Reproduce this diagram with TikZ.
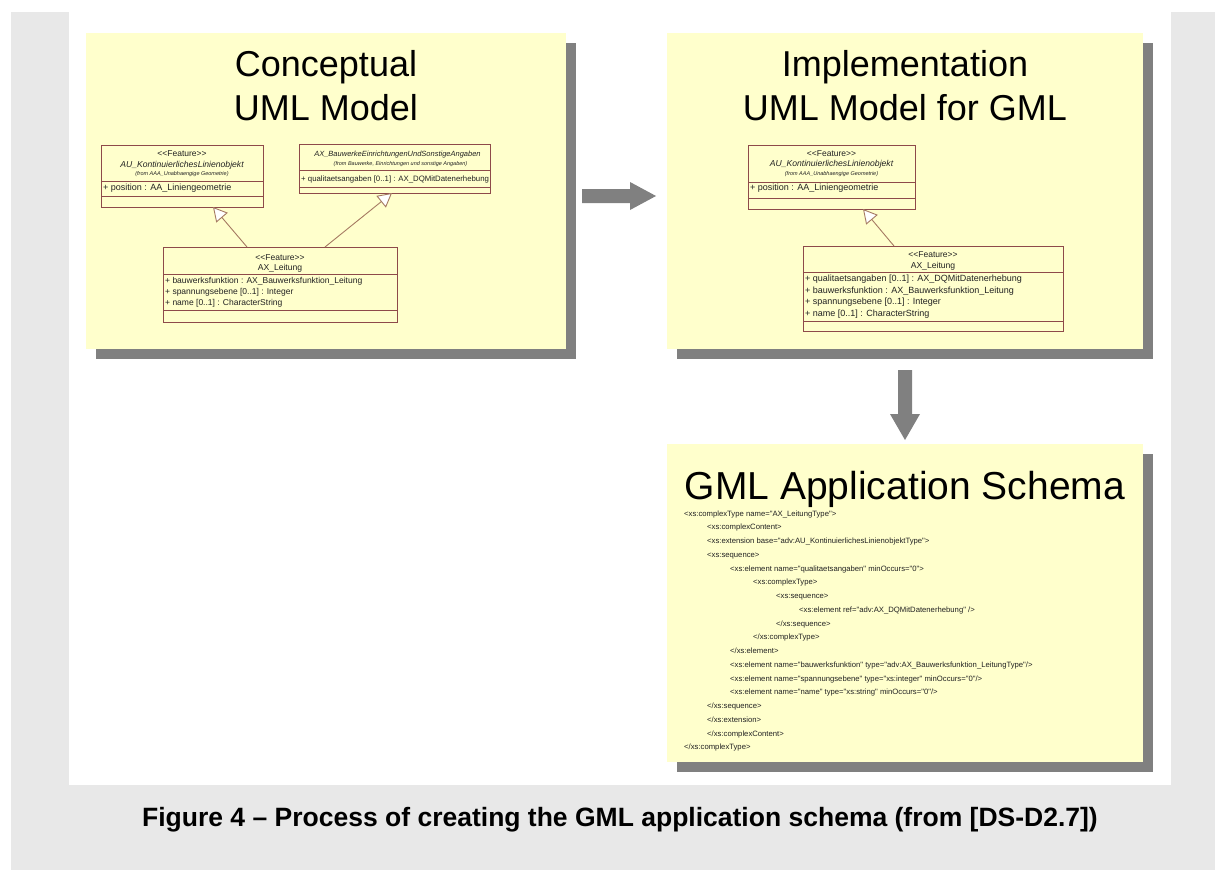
\documentclass[tikz,border=0pt]{standalone}
\usepackage{fontspec}
\setmainfont{Liberation Sans}
\newfontfamily\af{Liberation Sans}
\usetikzlibrary{calc,shadows,arrows.meta}
\definecolor{bggray}{HTML}{E8E8E8}
\definecolor{panelyellow}{HTML}{FFFFCC}
\definecolor{shadowgray}{HTML}{808080}
\definecolor{umlred}{HTML}{8E4A4A}
\definecolor{genbrown}{HTML}{A57A62}
\definecolor{txt}{HTML}{222222}
\tikzset{
  panel/.style={fill=panelyellow, draw=none, inner sep=0pt, outer sep=0pt, anchor=north west,
    general shadow={fill=shadowgray, shadow xshift=10pt, shadow yshift=-10pt}},
  umlbox/.style={draw=umlred, line width=0.9pt, inner sep=0pt, outer sep=0pt, anchor=north west},
  umlline/.style={draw=umlred, line width=0.9pt},
  gen/.style={draw=genbrown, line width=0.9pt, -{Triangle[fill=white, width=15pt, length=14pt]}},
  title/.style={font=\af\fontsize{36}{40}\selectfont, anchor=base, inner sep=0pt, text=black},
  bigtitle/.style={font=\af\fontsize{39}{44}\selectfont, anchor=base, inner sep=0pt, text=black},
  stereo/.style={font=\af\fontsize{8.5}{10}\selectfont, anchor=base, inner sep=0pt, text=txt},
  cname/.style={font=\af\fontsize{8.6}{10}\selectfont, anchor=base, inner sep=0pt, text=txt},
  iname/.style={font=\af\itshape\fontsize{8.6}{10}\selectfont, anchor=base, inner sep=0pt, text=txt},
  fromtxt/.style={font=\af\itshape\fontsize{5.5}{7}\selectfont, anchor=base, inner sep=0pt, text=txt},
  attr/.style={font=\af\fontsize{9}{11}\selectfont, anchor=base west, inner sep=0pt, text=txt},
  xmltext/.style={font=\af\fontsize{7.7}{9}\selectfont, anchor=base west, inner sep=0pt, text=txt},
  bigarrow/.style={fill=shadowgray, draw=none},
  caption/.style={font=\af\bfseries\fontsize{26.5}{30}\selectfont, anchor=base, inner sep=0pt, text=black}
}
\newcommand\xmlln[3]{\node[xmltext] (xml#2) at ({684+23*#1},{516+13.75*(#2-1)}) {#3};}
\begin{document}
\begin{tikzpicture}[x=1pt,y=-1pt]
\useasboundingbox (0,0) rectangle (1215,870);
\fill[white] (0,0) rectangle (1215,870);
\fill[bggray] (11,12) rectangle (1215,870);
\fill[white] (69,0) rectangle (1171,785);

% panels
\node[panel, minimum width=480pt, minimum height=316pt] (p1) at (86,33) {};
\node[panel, minimum width=476pt, minimum height=316pt] (p2) at (667,33) {};
\node[panel, minimum width=476pt, minimum height=318pt] (p3) at (667,444) {};

% titles
\node[title] (t1a) at ($(p1.north)+(0,43)$) {Conceptual};
\node[title] (t1b) at ($(p1.north)+(0,87)$) {UML Model};
\node[title] (t2a) at ($(p2.north)+(0,43)$) {Implementation};
\node[title] (t2b) at ($(p2.north)+(0,87)$) {UML Model for GML};
\node[bigtitle] (t3) at ($(p3.north)+(0,55)$) {GML Application Schema};

% big arrows
\fill[bigarrow] ($(p1.east)+(16,-2)$) -- ++(48,0) -- ++(0,-7) -- ++(26,14) -- ++(-26,14) -- ++(0,-7) -- ++(-48,0) -- cycle;
\fill[bigarrow] ($(p2.south)+(-7,21)$) -- ++(0,44) -- ++(-8,0) -- ++(15,26) -- ++(15,-26) -- ++(-8,0) -- ++(0,-44) -- cycle;

% ---- Panel 1 UML ----
% Box A
\node[umlbox, minimum width=162pt, minimum height=62pt] (A) at (101,145) {};
\draw[umlline] ($(A.north west)+(0,36)$) -- ($(A.north east)+(0,36)$);
\draw[umlline] ($(A.north west)+(0,51)$) -- ($(A.north east)+(0,51)$);
\node[stereo] (A1) at ($(A.north)+(0,11)$) {<<Feature>>};
\node[iname] (A2) at ($(A.north)+(0,22)$) {AU\_KontinuierlichesLinienobjekt};
\node[fromtxt] (A3) at ($(A.north)+(0,30.5)$) {(from AAA\_Unabhaengige Geometrie)};
\node[attr] (A4) at ($(A.north west)+(2,45)$) {+ position : AA\_Liniengeometrie};

% Box B
\node[umlbox, minimum width=191pt, minimum height=49pt] (B) at (299,144) {};
\draw[umlline] ($(B.north west)+(0,26)$) -- ($(B.north east)+(0,26)$);
\draw[umlline] ($(B.north west)+(0,43)$) -- ($(B.north east)+(0,43)$);
\node[iname, font=\af\itshape\fontsize{7.5}{9}\selectfont] (B1) at ($(B.north)+(3,12)$) {AX\_BauwerkeEinrichtungenUndSonstigeAngaben};
\node[fromtxt] (B2) at ($(B.north)+(6,21)$) {(from Bauwerke, Einrichtungen und sonstige Angaben)};
\node[attr, font=\af\fontsize{7.8}{9}\selectfont] (B3) at ($(B.north west)+(2,37)$) {+ qualitaetsangaben [0..1] : AX\_DQMitDatenerhebung};

% Box C
\node[umlbox, minimum width=234pt, minimum height=75pt] (C) at (163,247) {};
\draw[umlline] ($(C.north west)+(0,27)$) -- ($(C.north east)+(0,27)$);
\draw[umlline] ($(C.north west)+(0,63)$) -- ($(C.north east)+(0,63)$);
\node[stereo] (C1) at ($(C.north)+(0,13)$) {<<Feature>>};
\node[cname] (C2) at ($(C.north)+(0,23)$) {AX\_Leitung};
\node[attr, font=\af\fontsize{8.5}{10}\selectfont] (C3) at ($(C.north west)+(2,36)$) {+ bauwerksfunktion : AX\_Bauwerksfunktion\_Leitung};
\node[attr, font=\af\fontsize{8.5}{10}\selectfont] (C4) at ($(C.north west)+(2,47)$) {+ spannungsebene [0..1] : Integer};
\node[attr, font=\af\fontsize{8.5}{10}\selectfont] (C5) at ($(C.north west)+(2,58)$) {+ name [0..1] : CharacterString};

\draw[gen] ($(C.north west)+(84,0)$) -- ($(A.south west)+(112,0)$);
\draw[gen] ($(C.north west)+(162,0)$) -- ($(B.south west)+(93,0)$);

% ---- Panel 2 UML ----
% Box D
\node[umlbox, minimum width=167pt, minimum height=64pt] (D) at (748,145) {};
\draw[umlline] ($(D.north west)+(0,37)$) -- ($(D.north east)+(0,37)$);
\draw[umlline] ($(D.north west)+(0,53)$) -- ($(D.north east)+(0,53)$);
\node[stereo] (D1) at ($(D.north)+(0,11)$) {<<Feature>>};
\node[iname] (D2) at ($(D.north)+(0,21.5)$) {AU\_KontinuierlichesLinienobjekt};
\node[fromtxt] (D3) at ($(D.north)+(0,30.5)$) {(from AAA\_Unabhaengige Geometrie)};
\node[attr] (D4) at ($(D.north west)+(2,45)$) {+ position : AA\_Liniengeometrie};

% Box E
\node[umlbox, minimum width=260pt, minimum height=85pt] (E) at (803,246) {};
\draw[umlline] ($(E.north west)+(0,26)$) -- ($(E.north east)+(0,26)$);
\draw[umlline] ($(E.north west)+(0,75)$) -- ($(E.north east)+(0,75)$);
\node[stereo] (E1) at ($(E.north)+(0,11)$) {<<Feature>>};
\node[cname] (E2) at ($(E.north)+(0,22)$) {AX\_Leitung};
\node[attr] (E3) at ($(E.north west)+(2,35)$) {+ qualitaetsangaben [0..1] : AX\_DQMitDatenerhebung};
\node[attr] (E4) at ($(E.north west)+(2,47)$) {+ bauwerksfunktion : AX\_Bauwerksfunktion\_Leitung};
\node[attr] (E5) at ($(E.north west)+(2,58.5)$) {+ spannungsebene [0..1] : Integer};
\node[attr] (E6) at ($(E.north west)+(2,70)$) {+ name [0..1] : CharacterString};

\draw[gen] ($(E.north west)+(91,0)$) -- ($(D.south west)+(115,0)$);

% ---- Panel 3 XML ----
\xmlln{0}{1}{<xs:complexType name="AX\_LeitungType">}
\xmlln{1}{2}{<xs:complexContent>}
\xmlln{1}{3}{<xs:extension base="adv:AU\_KontinuierlichesLinienobjektType">}
\xmlln{1}{4}{<xs:sequence>}
\xmlln{2}{5}{<xs:element name="qualitaetsangaben" minOccurs="0">}
\xmlln{3}{6}{<xs:complexType>}
\xmlln{4}{7}{<xs:sequence>}
\xmlln{5}{8}{<xs:element ref="adv:AX\_DQMitDatenerhebung" />}
\xmlln{4}{9}{</xs:sequence>}
\xmlln{3}{10}{</xs:complexType>}
\xmlln{2}{11}{</xs:element>}
\xmlln{2}{12}{<xs:element name="bauwerksfunktion" type="adv:AX\_Bauwerksfunktion\_LeitungType"/>}
\xmlln{2}{13}{<xs:element name="spannungsebene" type="xs:integer" minOccurs="0"/>}
\xmlln{2}{14}{<xs:element name="name" type="xs:string" minOccurs="0"/>}
\xmlln{1}{15}{</xs:sequence>}
\xmlln{1}{16}{</xs:extension>}
\xmlln{1}{17}{</xs:complexContent>}
\xmlln{0}{18}{</xs:complexType>}

% caption
\node[caption] (cap) at (620,826) {Figure 4 – Process of creating the GML application schema (from [DS-D2.7])};
\end{tikzpicture}
\end{document}
